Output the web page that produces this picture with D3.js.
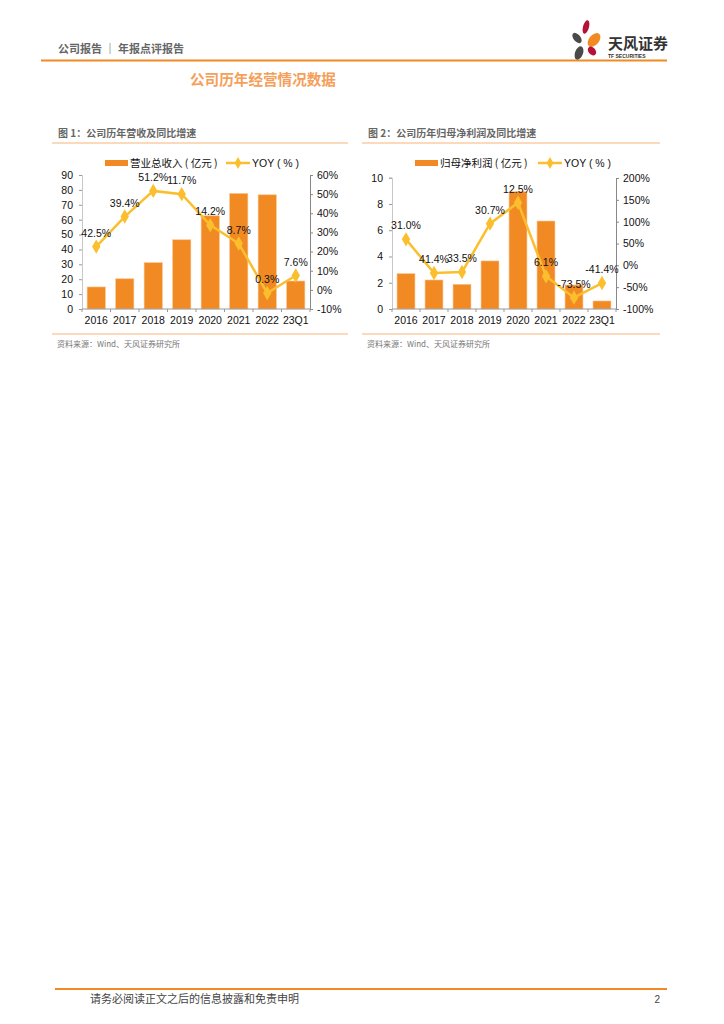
<!DOCTYPE html>
<html><head><meta charset="utf-8">
<script src="https://cdn.jsdelivr.net/npm/d3@7"></script>
<style>
body{margin:0;background:#fff;}
svg{display:block;}
</style></head>
<body>
<script>
const categories = ["2016","2017","2018","2019","2020","2021","2022","23Q1"];
// Chart 1
const revenue = [14.8, 20.3, 31.1, 46.5, 62.6, 77.6, 76.7, 18.8];
const revenueYoy = [22.6, 38.3, 51.7, 50.0, 33.8, 24.2, -1.7, 7.5];
const revenueYoyLabels = ["42.5%","39.4%","51.2%","11.7%","14.2%","8.7%","0.3%","7.6%"];
const leftTicks1 = [0,10,20,30,40,50,60,70,80,90];
const rightTicks1 = [-10,0,10,20,30,40,50,60];
// Chart 2
const profit = [2.69, 2.21, 1.88, 3.66, 8.93, 6.70, 1.83, 0.61];
const profitYoy = [59.5, -17.6, -15.3, 95.5, 143.6, -25.0, -74.0, -40.5];
const profitYoyLabels = ["31.0%","41.4%","33.5%","30.7%","12.5%","6.1%","-73.5%","-41.4%"];
const leftTicks2 = [0,2,4,6,8,10];
const rightTicks2 = [-100,-50,0,50,100,150,200];

const W = 724, H = 1024;
const svg = d3.select("body").append("svg").attr("width", W).attr("height", H);
const CJK = "'Noto Sans CJK SC','Noto Sans',sans-serif";
const LAT = "'Liberation Sans',Arial,sans-serif";
const ORANGE = "#F28A24", GOLD = "#FBBF2D";

// Header
svg.append("text").attr("x", 58).attr("y", 53).attr("font-family", CJK).attr("font-size", 11)
  .attr("font-weight", "bold").attr("fill", "#666").text("公司报告 ｜ 年报点评报告");
svg.append("rect").attr("x", 41).attr("y", 59.5).attr("width", 626).attr("height", 2).attr("fill", "#F28A24");
// Logo
const logo = svg.append("g");
logo.append("ellipse").attr("cx", 586).attr("cy", 27).attr("rx", 3).attr("ry", 7).attr("transform","rotate(15,586,27)").attr("fill", "#B5123A");
logo.append("ellipse").attr("cx", 577).attr("cy", 38).attr("rx", 3.5).attr("ry", 6).attr("transform","rotate(-40,577,38)").attr("fill", "#4a4a4a");
logo.append("ellipse").attr("cx", 594).attr("cy", 40).attr("rx", 5).attr("ry", 8).attr("transform","rotate(40,594,40)").attr("fill", "#F28A24");
logo.append("ellipse").attr("cx", 579).attr("cy", 53).attr("rx", 4).attr("ry", 7).attr("transform","rotate(20,579,53)").attr("fill", "#4a4a4a");
logo.append("ellipse").attr("cx", 592).attr("cy", 51).attr("rx", 3.5).attr("ry", 5).attr("transform","rotate(-40,592,51)").attr("fill", "#B5123A");
svg.append("text").attr("x", 608).attr("y", 49).attr("font-family", CJK).attr("font-size", 15)
  .attr("font-weight", "bold").attr("fill", "#333").text("天风证券");
svg.append("text").attr("x", 608).attr("y", 58).attr("font-family", LAT).attr("font-size", 5)
  .attr("font-weight", "bold").attr("fill", "#333").text("TF SECURITIES");

// Section title
svg.append("text").attr("x", 190).attr("y", 85).attr("font-family", CJK).attr("font-size", 14.6)
  .attr("font-weight", "bold").attr("fill", "#F5A05A").text("公司历年经营情况数据");

function drawChart(o) {
  const g = svg.append("g");
  // title + line
  g.append("text").attr("x", o.titleX).attr("y", 137).attr("font-family", CJK).attr("font-size", 10)
    .attr("font-weight", "bold").attr("fill", "#666").text(o.title);
  g.append("line").attr("x1", o.lineX1).attr("x2", o.lineX2).attr("y1", 143).attr("y2", 143)
    .attr("stroke", "#F5B37A").attr("stroke-width", 1);
  g.append("line").attr("x1", o.lineX1).attr("x2", o.lineX2).attr("y1", 334).attr("y2", 334)
    .attr("stroke", "#F5B37A").attr("stroke-width", 1);
  g.append("text").attr("x", o.titleX - 1).attr("y", 347).attr("font-family", CJK).attr("font-size", 8)
    .attr("fill", "#777").text("资料来源：Wind、天风证券研究所");

  const x = d3.scaleBand().domain(categories).range([o.x0, o.x1]).paddingInner(0.36).paddingOuter(0.18);
  const xb = d3.scaleBand().domain(categories).range([o.x0, o.x1]);
  const yL = d3.scaleLinear().domain(o.lDomain).range([309, o.lTop]);
  const yR = d3.scaleLinear().domain(o.rDomain).range([309, o.rTop]);

  // bars
  g.selectAll("rect.bar").data(o.bars).enter().append("rect")
    .attr("x", (d, i) => x(categories[i])).attr("width", x.bandwidth())
    .attr("y", d => yL(d)).attr("height", d => 309 - yL(d))
    .attr("fill", ORANGE).attr("stroke", "#F9C38F").attr("stroke-width", 0.6);

  // left axis
  const axL = g.append("g").attr("transform", `translate(${o.x0},0)`)
    .call(d3.axisLeft(yL).tickValues(o.lTicks).tickSize(3).tickPadding(6).tickFormat(d3.format("d")));
  axL.select(".domain").attr("stroke", "#c8c8c8");
  axL.selectAll(".tick line").attr("stroke", "#999");
  axL.selectAll("text").attr("font-family", LAT).attr("font-size", 10.5).attr("fill", "#111");

  // right axis
  const axR = g.append("g").attr("transform", `translate(${o.x1},0)`)
    .call(d3.axisRight(yR).tickValues(o.rTicks).tickSize(3).tickPadding(4).tickFormat(d => d + "%"));
  axR.select(".domain").attr("stroke", "#888");
  axR.selectAll(".tick line").attr("stroke", "#888");
  axR.selectAll("text").attr("font-family", LAT).attr("font-size", 10.5).attr("fill", "#111");

  // bottom axis
  const axB = g.append("g").attr("transform", `translate(0,309)`);
  axB.append("line").attr("x1", o.x0).attr("x2", o.x1).attr("y1", 0).attr("y2", 0).attr("stroke", "#999");
  axB.selectAll("line.tk").data(categories.concat(["end"])).enter().append("line")
    .attr("x1", (d, i) => o.x0 + i * xb.bandwidth()).attr("x2", (d, i) => o.x0 + i * xb.bandwidth())
    .attr("y1", 0).attr("y2", 3).attr("stroke", "#999");
  axB.selectAll("text").data(categories).enter().append("text")
    .attr("x", d => xb(d) + xb.bandwidth() / 2).attr("y", 15)
    .attr("text-anchor", "middle").attr("font-family", LAT).attr("font-size", 10.5).attr("fill", "#111").text(d => d);

  // line
  const cx = (i) => xb(categories[i]) + xb.bandwidth() / 2;
  const line = d3.line().x((d, i) => cx(i)).y(d => yR(d));
  g.append("path").datum(o.yoy).attr("d", line).attr("fill", "none").attr("stroke", GOLD).attr("stroke-width", 2.5);
  g.selectAll("path.mk").data(o.yoy).enter().append("path")
    .attr("d", d3.symbol().type(d3.symbolDiamond).size(60))
    .attr("transform", (d, i) => `translate(${cx(i)},${yR(d)})`).attr("fill", GOLD);
  g.selectAll("text.lb").data(o.yoy).enter().append("text")
    .attr("x", (d, i) => cx(i)).attr("y", d => yR(d) - 10)
    .attr("text-anchor", "middle").attr("font-family", LAT).attr("font-size", 10.5).attr("fill", "#111")
    .text((d, i) => o.labels[i]);

  // legend
  g.append("rect").attr("x", o.legX).attr("y", 160).attr("width", 23).attr("height", 6).attr("fill", ORANGE);
  g.append("text").attr("x", o.legX + 25).attr("y", 167).attr("font-family", CJK).attr("font-size", 10.5)
    .attr("fill", "#111").text(o.legName);
  g.append("line").attr("x1", o.legX2).attr("x2", o.legX2 + 24).attr("y1", 163).attr("y2", 163)
    .attr("stroke", GOLD).attr("stroke-width", 2.5);
  g.append("path").attr("d", d3.symbol().type(d3.symbolDiamond).size(40))
    .attr("transform", `translate(${o.legX2 + 12},163)`).attr("fill", GOLD);
  g.append("text").attr("x", o.legX2 + 26).attr("y", 167).attr("font-family", LAT).attr("font-size", 10.5)
    .attr("fill", "#111").text("YOY ( % )");
}

drawChart({
  title: "图 1：公司历年营收及同比增速", titleX: 58, lineX1: 52, lineX2: 348,
  x0: 82, x1: 310, lDomain: [0, 90], lTop: 175, rDomain: [-10, 60], rTop: 175,
  lTicks: leftTicks1, rTicks: rightTicks1, bars: revenue, yoy: revenueYoy, labels: revenueYoyLabels,
  legX: 105, legName: "营业总收入 ( 亿元 )", legX2: 226
});
drawChart({
  title: "图 2：公司历年归母净利润及同比增速", titleX: 368, lineX1: 362, lineX2: 660,
  x0: 392, x1: 616, lDomain: [0, 10], lTop: 177.7, rDomain: [-100, 200], rTop: 178,
  lTicks: leftTicks2, rTicks: rightTicks2, bars: profit, yoy: profitYoy, labels: profitYoyLabels,
  legX: 415, legName: "归母净利润 ( 亿元 )", legX2: 538
});

// Footer
svg.append("rect").attr("x", 55).attr("y", 988).attr("width", 612).attr("height", 2).attr("fill", "#F28A24");
svg.append("text").attr("x", 90).attr("y", 1003).attr("font-family", CJK).attr("font-size", 11)
  .attr("fill", "#444").text("请务必阅读正文之后的信息披露和免责申明");
svg.append("text").attr("x", 660).attr("y", 1003).attr("text-anchor", "end").attr("font-family", LAT).attr("font-size", 10)
  .attr("fill", "#444").text("2");
</script>
</body></html>
